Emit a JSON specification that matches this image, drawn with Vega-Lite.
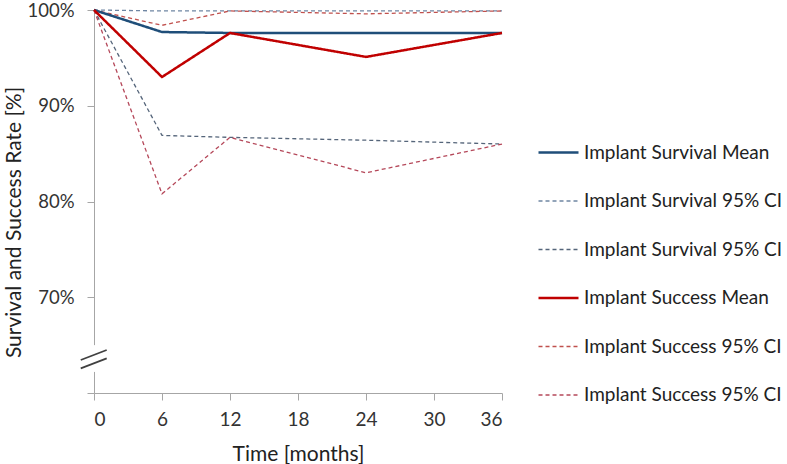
{
  "$schema": "https://vega.github.io/schema/vega-lite/v6.json",
  "width": 408,
  "height": 383,
  "autosize": "none",
  "padding": {"left": 94, "top": 10, "right": 285, "bottom": 71},
  "config": {
    "font": "Lato",
    "view": {"stroke": null},
    "axis": {
      "grid": false,
      "domainColor": "#a6a6a6",
      "tickColor": "#a6a6a6",
      "labelColor": "#333333",
      "titleColor": "#222222",
      "labelFontSize": 19,
      "titleFontSize": 21,
      "titleFontWeight": "normal",
      "labelFont": "Lato",
      "titleFont": "Lato"
    }
  },
  "datasets": {
    "rates": [
      {"series": "s_mean", "month": 0, "rate": 100},
      {"series": "s_mean", "month": 6, "rate": 97.7},
      {"series": "s_mean", "month": 12, "rate": 97.6},
      {"series": "s_mean", "month": 24, "rate": 97.6},
      {"series": "s_mean", "month": 36, "rate": 97.6},
      {"series": "s_up", "month": 0, "rate": 100},
      {"series": "s_up", "month": 6, "rate": 99.9},
      {"series": "s_up", "month": 12, "rate": 99.9},
      {"series": "s_up", "month": 24, "rate": 99.9},
      {"series": "s_up", "month": 36, "rate": 99.9},
      {"series": "s_lo", "month": 0, "rate": 100},
      {"series": "s_lo", "month": 6, "rate": 86.9},
      {"series": "s_lo", "month": 12, "rate": 86.7},
      {"series": "s_lo", "month": 24, "rate": 86.4},
      {"series": "s_lo", "month": 36, "rate": 86.0},
      {"series": "c_mean", "month": 0, "rate": 100},
      {"series": "c_mean", "month": 6, "rate": 93.0},
      {"series": "c_mean", "month": 12, "rate": 97.6},
      {"series": "c_mean", "month": 24, "rate": 95.1},
      {"series": "c_mean", "month": 36, "rate": 97.6},
      {"series": "c_up", "month": 0, "rate": 100},
      {"series": "c_up", "month": 6, "rate": 98.4},
      {"series": "c_up", "month": 12, "rate": 99.9},
      {"series": "c_up", "month": 24, "rate": 99.6},
      {"series": "c_up", "month": 36, "rate": 99.9},
      {"series": "c_lo", "month": 0, "rate": 100},
      {"series": "c_lo", "month": 6, "rate": 80.8},
      {"series": "c_lo", "month": 12, "rate": 86.7},
      {"series": "c_lo", "month": 24, "rate": 83.0},
      {"series": "c_lo", "month": 36, "rate": 86.0}
    ]
  },
  "layer": [
    {
      "data": {"name": "rates"},
      "transform": [{"filter": "datum.series != 's_mean' && datum.series != 'c_mean'"}],
      "mark": {"type": "line", "strokeWidth": 1.3},
      "encoding": {
        "x": {
          "field": "month", "type": "quantitative",
          "scale": {"domain": [0, 36], "nice": false},
          "axis": {"values": [0, 6, 12, 18, 24, 30, 36], "title": "Time [months]", "tickSize": 7, "labelPadding": 10, "titlePadding": 14}
        },
        "y": {
          "field": "rate", "type": "quantitative",
          "scale": {"domain": [60, 100], "nice": false, "zero": false},
          "axis": {"values": [60, 70, 80, 90, 100], "labelExpr": "datum.value == 60 ? '' : datum.value + '%'", "labelFontSize": 18.5, "title": "Survival and Success Rate [%]", "tickSize": 7, "labelPadding": 13, "titlePadding": 2, "titleY": 212}
        },
        "color": {
          "field": "series", "type": "nominal",
          "scale": {
            "domain": ["s_mean", "s_up", "s_lo", "c_mean", "c_up", "c_lo"],
            "range": ["#1f4e79", "#6f86a3", "#55657a", "#c00000", "#c0504d", "#b5485a"]
          },
          "legend": {
            "orient": "none",
            "legendX": 455,
            "legendY": 133,
            "title": null,
            "symbolType": "stroke",
            "symbolSize": 1600,
            "symbolStrokeWidth": 1.5,
            "labelFontSize": 19,
            "labelLimit": 400,
            "labelColor": "#222222",
            "labelOffset": 16,
            "rowPadding": 28.5,
            "labelExpr": "{'s_mean': 'Implant Survival Mean', 's_up': 'Implant Survival 95% CI', 's_lo': 'Implant Survival 95% CI', 'c_mean': 'Implant Success Mean', 'c_up': 'Implant Success 95% CI', 'c_lo': 'Implant Success 95% CI'}[datum.value]",
            "encode": {"symbols": {"update": {"strokeWidth": {"signal": "datum.value == 's_mean' || datum.value == 'c_mean' ? 2.5 : 1.3"}}}}
          }
        },
        "strokeDash": {
          "field": "series", "type": "nominal",
          "scale": {
            "domain": ["s_mean", "s_up", "s_lo", "c_mean", "c_up", "c_lo"],
            "range": [[1, 0], [4, 3], [4, 3], [1, 0], [4, 3], [4, 3]]
          }
        }
      }
    },
    {
      "data": {"name": "rates"},
      "transform": [{"filter": "datum.series == 's_mean' || datum.series == 'c_mean'"}],
      "mark": {"type": "line", "strokeWidth": 2.5},
      "encoding": {
        "x": {"field": "month", "type": "quantitative"},
        "y": {"field": "rate", "type": "quantitative"},
        "color": {"field": "series", "type": "nominal"},
        "strokeDash": {"field": "series", "type": "nominal"}
      }
    },
    {
      "data": {"values": [{}]},
      "mark": {"type": "rect", "fill": "white"},
      "encoding": {
        "x": {"datum": -0.4},
        "x2": {"datum": 0.4},
        "y": {"datum": 62.2},
        "y2": {"datum": 65.0}
      }
    },
    {
      "data": {"values": [{}]},
      "mark": {"type": "rule", "stroke": "#404040", "strokeWidth": 1.8},
      "encoding": {
        "x": {"datum": -1.17},
        "x2": {"datum": 1.12},
        "y": {"datum": 63.45},
        "y2": {"datum": 64.49}
      }
    },
    {
      "data": {"values": [{}]},
      "mark": {"type": "rule", "stroke": "#404040", "strokeWidth": 1.8},
      "encoding": {
        "x": {"datum": -1.17},
        "x2": {"datum": 1.12},
        "y": {"datum": 62.58},
        "y2": {"datum": 63.62}
      }
    }
  ]
}
